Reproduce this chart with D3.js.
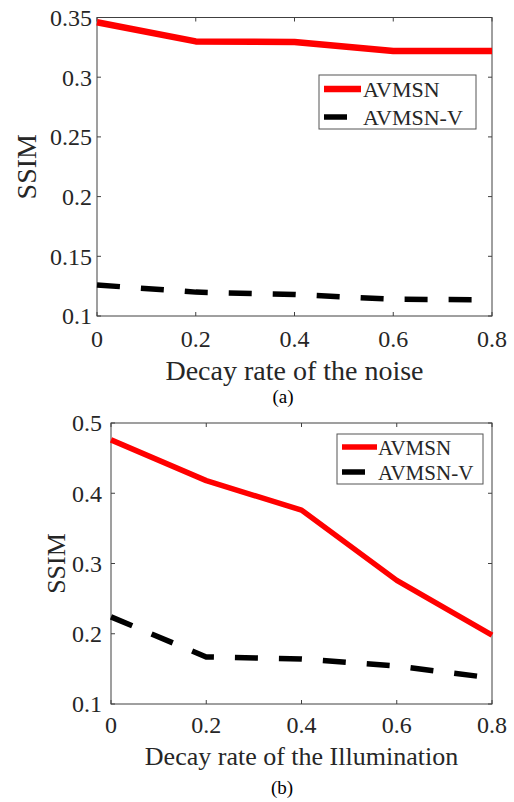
<!DOCTYPE html>
<html>
<head>
<meta charset="utf-8">
<script src="https://cdn.jsdelivr.net/npm/d3@7"></script>
<style>
  body { margin: 0; background: #fff; }
  svg text { font-family: "Liberation Serif", "Times New Roman", serif; fill: #262626; }
</style>
</head>
<body>
<svg id="fig" width="514" height="802"></svg>
<script>
// values
var decayRates = [0, 0.2, 0.4, 0.6, 0.8];
var noiseAVMSN = [0.346, 0.330, 0.3295, 0.322, 0.322];
var noiseAVMSNV = [0.126, 0.120, 0.118, 0.114, 0.1135];
var illumAVMSN = [0.476, 0.418, 0.376, 0.276, 0.198];
var illumAVMSNV = [0.224, 0.167, 0.164, 0.154, 0.137];
var xTicks = [0, 0.2, 0.4, 0.6, 0.8];
var noiseYTicks = [0.1, 0.15, 0.2, 0.25, 0.3, 0.35];
var illumYTicks = [0.1, 0.2, 0.3, 0.4, 0.5];
var seriesNames = ["AVMSN", "AVMSN-V"];

var serif = '"Liberation Serif", "Times New Roman", serif';
var svg = d3.select('#fig');

function drawPanel(p) {
    var x = d3.scaleLinear().domain([0, 0.8]).range([p.left, p.right]);
    var y = d3.scaleLinear().domain(p.yDomain).range([p.bottom, p.top]);
    var g = svg.append('g').attr('font-family', serif);
    var tick = 4;

    // box
    g.append('rect')
        .attr('x', p.left).attr('y', p.top)
        .attr('width', p.right - p.left).attr('height', p.bottom - p.top)
        .attr('fill', 'none').attr('stroke', '#404040').attr('stroke-width', 1);

    // inward ticks on all four sides
    xTicks.forEach(function (t) {
        g.append('line').attr('x1', x(t)).attr('x2', x(t))
            .attr('y1', p.bottom).attr('y2', p.bottom - tick).attr('stroke', '#404040');
        g.append('line').attr('x1', x(t)).attr('x2', x(t))
            .attr('y1', p.top).attr('y2', p.top + tick).attr('stroke', '#404040');
    });
    p.yTicks.forEach(function (t) {
        g.append('line').attr('x1', p.left).attr('x2', p.left + tick)
            .attr('y1', y(t)).attr('y2', y(t)).attr('stroke', '#404040');
        g.append('line').attr('x1', p.right).attr('x2', p.right - tick)
            .attr('y1', y(t)).attr('y2', y(t)).attr('stroke', '#404040');
    });

    g.selectAll('text.xt')
        .data(xTicks)
        .enter()
        .append('text')
        .attr('class', 'xt')
        .attr('x', d => x(d))
        .attr('y', p.bottom + p.xTickGap)
        .attr('text-anchor', 'middle')
        .style('font-family', serif)
        .style('font-size', p.tickSize + 'px')
        .text(d => String(d));

    g.selectAll('text.yt')
        .data(p.yTicks)
        .enter()
        .append('text')
        .attr('class', 'yt')
        .attr('x', p.left - p.yTickGap)
        .attr('y', d => y(d))
        .attr('dy', '0.35em')
        .attr('text-anchor', 'end')
        .style('font-family', serif)
        .style('font-size', p.tickSize + 'px')
        .text(d => String(d));

    // axis titles
    g.append('text')
        .attr('x', (p.left + p.right) / 2)
        .attr('y', p.xLabelY)
        .attr('text-anchor', 'middle')
        .style('font-size', p.labelSize + 'px')
        .text(p.xLabel);

    g.append('text')
        .attr('transform', 'translate(' + p.yLabelX + ',' + ((p.top + p.bottom) / 2) + ') rotate(-90)')
        .attr('text-anchor', 'middle')
        .style('font-size', p.labelSize + 'px')
        .text('SSIM');

    g.append('text')
        .attr('x', p.capX)
        .attr('y', p.capY)
        .attr('text-anchor', 'middle')
        .style('font-size', '19px')
        .style('fill', '#000')
        .text(p.caption);

    // data lines
    var line = d3.line()
        .x((d, i) => x(decayRates[i]))
        .y(d => y(d));

    g.append('path')
        .datum(p.red)
        .attr('d', line)
        .attr('fill', 'none')
        .attr('stroke', '#ff0000')
        .attr('stroke-width', p.redWidth)
        .attr('stroke-linejoin', 'round');

    g.append('path')
        .datum(p.black)
        .attr('d', line)
        .attr('fill', 'none')
        .attr('stroke', '#000')
        .attr('stroke-width', 5.5)
        .attr('stroke-dasharray', '23,21');

    // legend
    var L = p.legend;
    g.append('rect')
        .attr('x', L.x).attr('y', L.y).attr('width', L.w).attr('height', L.h)
        .attr('fill', '#fff').attr('stroke', '#555').attr('stroke-width', 1);
    g.append('line')
        .attr('x1', L.x + 5).attr('x2', L.x + 5 + L.sample)
        .attr('y1', L.row1).attr('y2', L.row1)
        .attr('stroke', '#ff0000').attr('stroke-width', p.redWidth);
    g.append('line')
        .attr('x1', L.x + 5).attr('x2', L.x + 5 + L.sample)
        .attr('y1', L.row2).attr('y2', L.row2)
        .attr('stroke', '#000').attr('stroke-width', 5.5)
        .attr('stroke-dasharray', '23,21');
    g.selectAll('text.lg')
        .data(seriesNames)
        .enter()
        .append('text')
        .attr('class', 'lg')
        .attr('x', L.textX)
        .attr('y', (d, i) => (i === 0 ? L.row1 : L.row2) + 8)
        .style('font-size', L.size + 'px')
        .text(d => d);
}

drawPanel({
    left: 97, right: 492, top: 17.5, bottom: 316,
    yDomain: [0.1, 0.35], yTicks: noiseYTicks,
    red: noiseAVMSN, black: noiseAVMSNV, redWidth: 6.5,
    tickSize: 24, labelSize: 28, xTickGap: 31, yTickGap: 5,
    xLabel: 'Decay rate of the noise', xLabelY: 380, yLabelX: 36,
    caption: '(a)', capX: 283, capY: 403,
    legend: { x: 319, y: 75, w: 157, h: 54, sample: 37, row1: 89, row2: 117, textX: 363, size: 22 }
});

drawPanel({
    left: 111, right: 492, top: 423, bottom: 704,
    yDomain: [0.1, 0.5], yTicks: illumYTicks,
    red: illumAVMSN, black: illumAVMSNV, redWidth: 5.5,
    tickSize: 24, labelSize: 26, xTickGap: 29, yTickGap: 9,
    xLabel: 'Decay rate of the Illumination', xLabelY: 765, yLabelX: 65,
    caption: '(b)', capX: 282, capY: 794,
    legend: { x: 337, y: 434, w: 146, h: 50, sample: 35, row1: 447, row2: 472, textX: 378, size: 21 }
});
</script>
</body>
</html>
